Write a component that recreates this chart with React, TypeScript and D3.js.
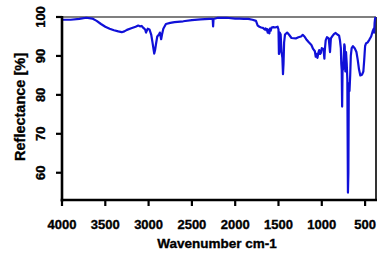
import React from "react";
import * as d3 from "d3";

const wavenumbers: number[] = [
  4000, 3900, 3800, 3720, 3650, 3600, 3550, 3500, 3450, 3400, 3350, 3310, 3280, 3250, 3200, 3150, 3120, 3100, 3080, 3060,
  3040, 3030, 3020, 3010, 2990, 2970, 2955, 2945, 2935, 2925, 2915, 2900, 2880, 2870, 2855, 2845, 2830, 2800, 2750, 2700,
  2600, 2500, 2400, 2300, 2260, 2255, 2250, 2200, 2100, 2000, 1950, 1900, 1850, 1800, 1760, 1740, 1720, 1700, 1680, 1660,
  1650, 1640, 1630, 1625, 1615, 1605, 1600, 1590, 1580, 1560, 1540, 1510, 1500, 1495, 1490, 1485, 1475, 1465, 1455, 1448, 1442, 1435, 1425, 1400,
  1380, 1350, 1300, 1270, 1240, 1220, 1200, 1180, 1150, 1120, 1100, 1080, 1070, 1060, 1050, 1040, 1030, 1020, 1010, 1000,
  980, 970, 965, 955, 940, 920, 905, 895, 880, 860, 840, 820, 800, 790, 780, 775, 770, 765, 760, 755,
  748, 740, 735, 728, 720, 712, 705, 698, 693, 688, 680, 672, 665, 655, 640, 620, 600, 585, 570, 555,
  535, 520, 510, 500, 490, 470, 450, 430, 410, 400, 395, 390, 385, 380,
];

const reflectance: number[] = [
  99.3, 99.3, 99.5, 99.8, 99.6, 99.0, 98.2, 97.5, 97.0, 96.6, 96.3, 96.1, 96.3, 96.7, 97.1, 97.5, 97.8, 97.6, 97.7, 97.2,
  96.8, 96.0, 96.5, 97.0, 96.8, 95.5, 93.5, 92.0, 90.6, 91.5, 93.0, 95.0, 95.5, 96.0, 94.3, 95.5, 97.0, 98.2, 98.5, 98.7,
  98.9, 99.2, 99.4, 99.5, 99.5, 97.6, 99.5, 99.8, 99.8, 99.6, 99.6, 99.5, 99.5, 99.3, 99.0, 97.8, 97.5, 97.3, 97.2, 96.8,
  97.1, 96.6, 96.9, 96.0, 96.6, 95.8, 97.0, 96.5, 97.3, 97.4, 97.3, 97.5, 96.8, 90.5, 91.0, 96.0, 95.5, 91.0, 89.5, 85.3, 88.0, 93.5, 95.5, 96.0,
  95.5, 94.6, 94.5, 94.8, 95.0, 95.4, 95.0, 94.3, 93.5, 92.8, 91.8, 91.2, 89.8, 90.5, 89.5, 90.8, 91.5, 90.5, 90.8, 92.0,
  91.8, 89.3, 91.5, 94.0, 94.8, 94.5, 91.0, 94.5, 95.0, 95.6, 95.9, 95.5, 95.2, 94.0, 92.0, 88.0, 86.5, 77.0, 87.0, 86.5,
  89.0, 93.0, 92.5, 86.0, 91.0, 88.0, 84.0, 54.9, 60.0, 83.0, 81.0, 85.0, 90.0, 92.0, 92.5, 92.0, 91.0, 89.0, 86.5, 85.0,
  85.2, 86.0, 89.0, 92.5, 93.2, 93.5, 94.2, 95.0, 96.5, 97.0, 96.0, 98.5, 99.5, 100.0,
];

const xTicks: number[] = [4000, 3500, 3000, 2500, 2000, 1500, 1000, 500];
const yTicks: number[] = [60, 70, 80, 90, 100];
const xTitle = "Wavenumber cm-1";
const yTitle = "Reflectance [%]";

export default function App() {
  const W = 385;
  const H = 254;
  const left = 62;
  const right = 376;
  const top = 17;
  const bottom = 200;

  const x = d3.scaleLinear().domain([4000, 374]).range([left, right]);
  const y = d3.scaleLinear().domain([53, 100]).range([bottom, top]);

  const pts: [number, number][] = wavenumbers.map((w, i) => [w, reflectance[i]]);
  const line = d3
    .line<[number, number]>()
    .x((d) => x(d[0]))
    .y((d) => y(d[1]));

  const font = "'Liberation Sans', Arial, sans-serif";
  const heavy = { stroke: "#000", strokeWidth: 0.35 };

  return (
    <svg
      width={W}
      height={H}
      style={{ position: "absolute", left: 0, top: 0, background: "#fff" }}
    >
      <rect x={0} y={0} width={W} height={H} fill="#fff" />
      <line x1={left} x2={right} y1={top} y2={top} stroke="#000" strokeWidth={1.2} />
      <line x1={right} x2={right} y1={top} y2={bottom} stroke="#000" strokeWidth={1.6} />
      <path d={line(pts) || ""} fill="none" stroke="#1010d8" strokeWidth={2.2} strokeLinejoin="round" />
      <line x1={left} x2={left} y1={top - 1} y2={bottom + 1.5} stroke="#000" strokeWidth={2.6} />
      {yTicks.map((t) => (
        <g key={t}>
          <line x1={left - 6} x2={left} y1={y(t)} y2={y(t)} stroke="#000" strokeWidth={2.2} />
          <text
            transform={`translate(${40},${y(t)}) rotate(-90)`}
            textAnchor="middle"
            dominantBaseline="central"
            fontFamily={font}
            fontWeight="bold"
            fontSize={13}
            fill="#000"
            {...heavy}
          >
            {t}
          </text>
        </g>
      ))}
      <line x1={left - 1.3} x2={right + 1} y1={bottom} y2={bottom} stroke="#000" strokeWidth={2.6} />
      {xTicks.map((t) => (
        <g key={t}>
          <line x1={x(t)} x2={x(t)} y1={bottom} y2={bottom + 6} stroke="#000" strokeWidth={2.2} />
          <text
            x={x(t)}
            y={224}
            textAnchor="middle"
            dominantBaseline="central"
            fontFamily={font}
            fontWeight="bold"
            fontSize={13}
            fill="#000"
            {...heavy}
          >
            {t}
          </text>
        </g>
      ))}
      <text
        x={217}
        y={243}
        textAnchor="middle"
        dominantBaseline="central"
        fontFamily={font}
        fontWeight="bold"
        fontSize={13.5}
        fill="#000"
        {...heavy}
      >
        {xTitle}
      </text>
      <text
        transform={`translate(${20},${107}) rotate(-90)`}
        textAnchor="middle"
        dominantBaseline="central"
        fontFamily={font}
        fontWeight="bold"
        fontSize={14.5}
        fill="#000"
        {...heavy}
      >
        {yTitle}
      </text>
    </svg>
  );
}
